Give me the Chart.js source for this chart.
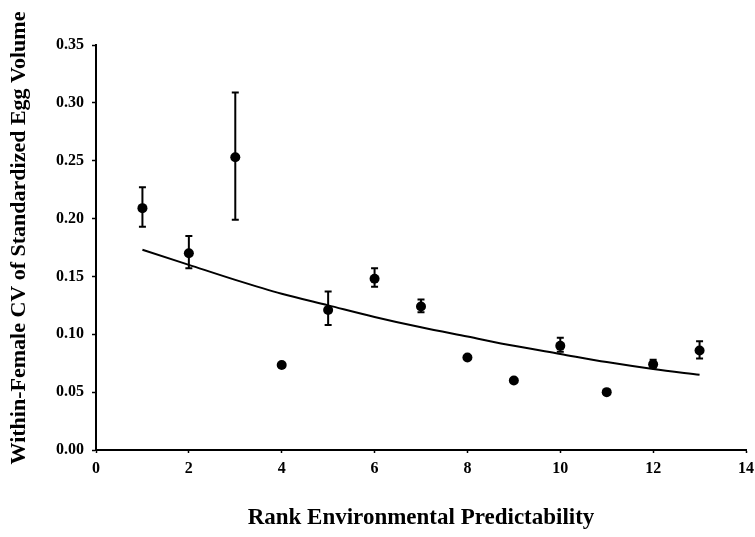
<!DOCTYPE html>
<html><head><meta charset="utf-8">
<script src="https://cdn.jsdelivr.net/npm/chart.js@4/dist/chart.umd.min.js"></script>
<style>html,body{margin:0;padding:0;background:#fff}#wrap{width:755px;height:537px}</style>
</head><body><div id="wrap"><canvas id="c" width="755" height="537"></canvas></div>
<script>
const rank = [1, 2, 3, 4, 5, 6, 7, 8, 9, 10, 11, 12, 13];
const cvMean = [0.209, 0.170, 0.253, 0.0735, 0.121, 0.148, 0.124, 0.080, 0.060, 0.090, 0.050, 0.074, 0.086];
const errUpper = [0.227, 0.185, 0.309, null, 0.137, 0.157, 0.130, null, null, 0.097, null, 0.078, 0.094];
const errLower = [0.193, 0.157, 0.199, null, 0.108, 0.141, 0.119, null, null, 0.085, null, 0.071, 0.079];
const fitY = [0.173, 0.160, 0.147, 0.135, 0.125, 0.115, 0.106, 0.098, 0.090, 0.083, 0.076, 0.070, 0.065];
const xTicks = [0, 2, 4, 6, 8, 10, 12, 14];
const yTicks = [0, 0.05, 0.10, 0.15, 0.20, 0.25, 0.30, 0.35];
const xTitle = 'Rank Environmental Predictability';
const yTitle = 'Within-Female CV of Standardized Egg Volume';

const FONT = "'Liberation Serif', 'Times New Roman', serif";

const errorBars = {
  id: 'errorBars',
  afterDatasetsDraw(chart) {
    const {ctx, scales: {x, y}} = chart;
    ctx.save();
    ctx.strokeStyle = '#000';
    ctx.lineWidth = 2;
    rank.forEach((r, i) => {
      if (errUpper[i] == null) return;
      const px = x.getPixelForValue(r);
      const pt = y.getPixelForValue(errUpper[i]);
      const pb = y.getPixelForValue(errLower[i]);
      ctx.beginPath();
      ctx.moveTo(px, pt); ctx.lineTo(px, pb);
      ctx.moveTo(px - 3.5, pt); ctx.lineTo(px + 3.5, pt);
      ctx.moveTo(px - 3.5, pb); ctx.lineTo(px + 3.5, pb);
      ctx.stroke();
    });
    ctx.restore();
  }
};

const titles = {
  id: 'titles',
  afterDraw(chart) {
    const {ctx, chartArea} = chart;
    ctx.save();
    ctx.fillStyle = '#000';
    ctx.textAlign = 'center';
    ctx.textBaseline = 'middle';
    ctx.font = 'bold 23px ' + FONT;
    ctx.fillText(xTitle, (chartArea.left + chartArea.right) / 2, 518);
    ctx.font = 'bold 22px ' + FONT;
    ctx.translate(19, 238);
    ctx.rotate(-Math.PI / 2);
    ctx.fillText(yTitle, 0, 0);
    ctx.restore();
  }
};

new Chart(document.getElementById('c'), {
  type: 'scatter',
  data: {
    datasets: [
      {
        label: 'mean',
        data: rank.map((r, i) => ({x: r, y: cvMean[i]})),
        pointRadius: 5,
        pointBackgroundColor: '#000',
        pointBorderColor: '#000',
        pointBorderWidth: 0,
        order: 1
      },
      {
        label: 'fit',
        type: 'line',
        data: rank.map((r, i) => ({x: r, y: fitY[i]})),
        borderColor: '#000',
        borderWidth: 2,
        pointRadius: 0,
        fill: false,
        cubicInterpolationMode: 'monotone',
        order: 2
      }
    ]
  },
  options: {
    responsive: false,
    devicePixelRatio: 1,
    animation: false,
    layout: {padding: {top: 45, right: 9, bottom: 0, left: 0}},
    plugins: {legend: {display: false}, tooltip: {enabled: false}},
    scales: {
      x: {
        type: 'linear', min: 0, max: 14,
        afterBuildTicks(s) { s.ticks = xTicks.map(v => ({value: v})); },
        afterFit(s) { s.height = 87; s.paddingLeft = 0; s.paddingRight = 0; },
        border: {color: '#000', width: 2},
        grid: {drawOnChartArea: false, color: '#000', tickLength: 3, tickWidth: 1.5},
        ticks: {color: '#000', font: {family: FONT, weight: 'bold', size: 16}, padding: 6, maxRotation: 0,
          callback: v => String(v)}
      },
      y: {
        type: 'linear', min: 0, max: 0.35,
        afterBuildTicks(s) { s.ticks = yTicks.map(v => ({value: v})); },
        afterFit(s) { s.width = 96; s.paddingTop = 0; s.paddingBottom = 0; },
        border: {color: '#000', width: 2},
        grid: {drawOnChartArea: false, color: '#000', tickLength: 4, tickWidth: 1.5},
        ticks: {color: '#000', font: {family: FONT, weight: 'bold', size: 16}, padding: 8,
          callback: v => v.toFixed(2)}
      }
    }
  },
  plugins: [errorBars, titles]
});
</script>
</body></html>
